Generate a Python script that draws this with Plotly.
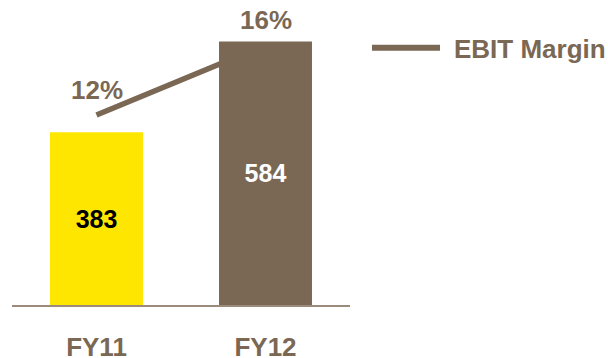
import plotly.graph_objects as go

# EBIT by fiscal year with EBIT margin overlay
years = ["FY11", "FY12"]
ebit = [383, 584]
margin_pct = [12, 16]
margin_labels = ["12%", "16%"]

BROWN = "#7A6854"
YELLOW = "#FFE600"
AXIS = "#9A8B7C"
FONT = "Arial, Liberation Sans, sans-serif"

fig = go.Figure()

# Margin line sits on the primary y axis so the bars (on y2) are layered above it
fig.add_trace(go.Scatter(
    x=years, y=margin_pct, mode="lines", yaxis="y",
    line=dict(color=BROWN, width=5.5), name="EBIT Margin",
    showlegend=False, hoverinfo="skip",
))

fig.add_trace(go.Bar(
    x=years, y=ebit, yaxis="y2", width=0.55,
    marker=dict(color=[YELLOW, BROWN], line=dict(width=0)),
    text=[str(v) for v in ebit], textposition="inside",
    insidetextanchor="middle",
    textfont=dict(family=FONT, size=25, weight="bold", color=["#000000", "#FFFFFF"]),
    showlegend=False,
))

for yr, val, lbl in zip(years, margin_pct, margin_labels):
    fig.add_annotation(
        x=yr, y=val, xref="x", yref="y", text=lbl, showarrow=False,
        yshift=25, font=dict(family=FONT, size=26, weight="bold", color=BROWN),
    )

# Legend key drawn as a line sample and label
fig.add_shape(type="line", xref="paper", yref="paper",
              x0=372 / 608, x1=440 / 608, y0=1 - 56 / 358, y1=1 - 56 / 358,
              line=dict(color=BROWN, width=6))
fig.add_annotation(xref="paper", yref="paper", x=452 / 608, y=1 - 58 / 358,
                   xanchor="left", yanchor="middle", showarrow=False,
                   text="EBIT Margin",
                   font=dict(family=FONT, size=26, weight="bold", color=BROWN))

fig.update_layout(
    width=608, height=358,
    margin=dict(l=0, r=0, t=0, b=53, autoexpand=False),
    paper_bgcolor="white", plot_bgcolor="white",
    xaxis=dict(
        domain=[12 / 608, 350 / 608], range=[-0.5, 1.5],
        showline=True, linecolor=AXIS, linewidth=2,
        showgrid=False, zeroline=False, ticks="",
        automargin=False,
        ticklabelstandoff=18,
        tickfont=dict(family=FONT, size=26, weight="bold", color=BROWN),
    ),
    yaxis=dict(range=[1.14, 18.57], visible=False, showgrid=False,
               zeroline=False, automargin=False),
    yaxis2=dict(range=[0, 676], overlaying="y", visible=False,
                showgrid=False, zeroline=False, automargin=False),
    showlegend=False,
)

fig.write_html("out.html")
